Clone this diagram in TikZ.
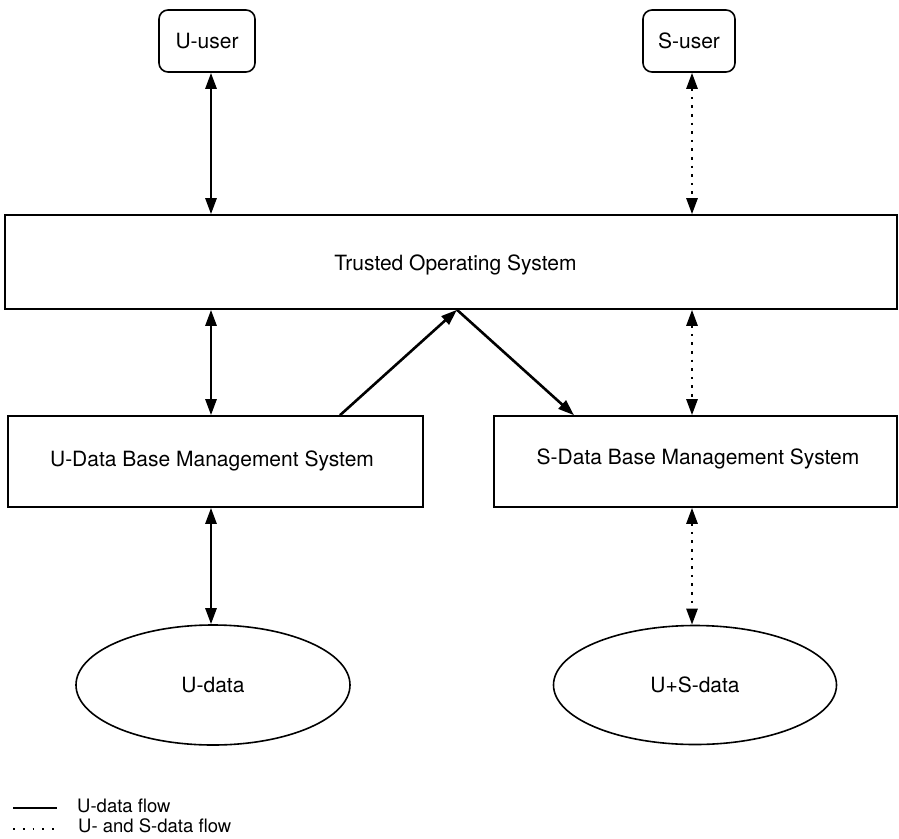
\documentclass[tikz,border=0pt]{standalone}
\usepackage{fontspec}
\setmainfont{TeX Gyre Heros}
\usetikzlibrary{arrows.meta,shapes.geometric}

\tikzset{
  box/.style={draw, line width=1.6pt, rectangle, inner sep=0pt, font=\fontsize{21}{25}\selectfont},
  userbox/.style={box, rounded corners=9pt},
  store/.style={draw, line width=1.6pt, ellipse, inner sep=0pt, font=\fontsize{21}{25}\selectfont},
  tip/.style={-{Triangle[length=16pt,width=11pt]}},
  twotip/.style={{Triangle[length=16pt,width=11pt]}-{Triangle[length=16pt,width=11pt]}},
  uflow/.style={line width=2.6pt},
  usflow/.style={line width=2.6pt, dash pattern=on 2.6pt off 6pt},
  legendtext/.style={anchor=west, inner sep=0pt, font=\fontsize{18.5}{22}\selectfont}
}

\begin{document}
\begin{tikzpicture}[x=1pt, y=-1pt]
  % page frame
  \path[fill=white, use as bounding box] (0,0) rectangle (899,838);

  % users
  \node[userbox, minimum width=96pt, minimum height=62pt] (uuser) at (207,41) {U-user};
  \node[userbox, minimum width=92pt, minimum height=62pt] (suser) at (689,41) {S-user};

  % trusted operating system
  \node[box, minimum width=892pt, minimum height=94pt] (tos) at (451,262) {};
  \node[font=\fontsize{21}{25}\selectfont] (tostext) at (455.5,265) {Trusted Operating System};

  % data base management systems
  \node[box, minimum width=415pt, minimum height=91pt] (udb) at (215.5,461.5) {};
  \node[font=\fontsize{21}{25}\selectfont] (udbtext) at (212,461) {U-Data Base Management System};
  \node[box, minimum width=403pt, minimum height=91pt] (sdb) at (695.5,461.5) {};
  \node[font=\fontsize{21}{25}\selectfont] (sdbtext) at (698,459) {S-Data Base Management System};

  % data stores
  \node[store, minimum width=274pt, minimum height=120pt] (udata) at (213,685) {U-data};
  \node[store, minimum width=283pt, minimum height=119pt] (usdata) at (695,685) {U+S-data};

  % columns for the vertical flows
  \coordinate (lx) at (211,0);
  \coordinate (rx) at (692,0);
  \coordinate (apex) at (457,0);
  \coordinate (uout) at (340,0);
  \coordinate (sin) at (574,0);

  % U-data flows
  \draw[uflow, twotip] (uuser.south -| lx) -- (tos.north -| lx);
  \draw[uflow, twotip] (tos.south -| lx) -- (udb.north -| lx);
  \draw[uflow, twotip] (udb.south -| lx) -- (udata.north -| lx);
  \draw[uflow, tip] (udb.north -| uout) -- (tos.south -| apex);
  \draw[uflow, tip] (tos.south -| apex) -- (sdb.north -| sin);

  % U- and S-data flows
  \draw[usflow, twotip] (suser.south -| rx) -- (tos.north -| rx);
  \draw[usflow, twotip] (tos.south -| rx) -- (sdb.north -| rx);
  \draw[usflow, twotip] (sdb.south -| rx) -- (usdata.north -| rx);

  % legend
  \coordinate (l1a) at (13,808);
  \coordinate (l1b) at (57,808);
  \coordinate (l2a) at (13,829);
  \coordinate (l2b) at (57,829);
  \draw[line width=1.8pt] (l1a) -- (l1b);
  \draw[line width=1.8pt, dash pattern=on 1.8pt off 8pt] (l2a) -- (l2b);
  \node[legendtext] (leg1) at (77,806) {U-data flow};
  \node[legendtext] (leg2) at (78,826) {U- and S-data flow};
\end{tikzpicture}
\end{document}
